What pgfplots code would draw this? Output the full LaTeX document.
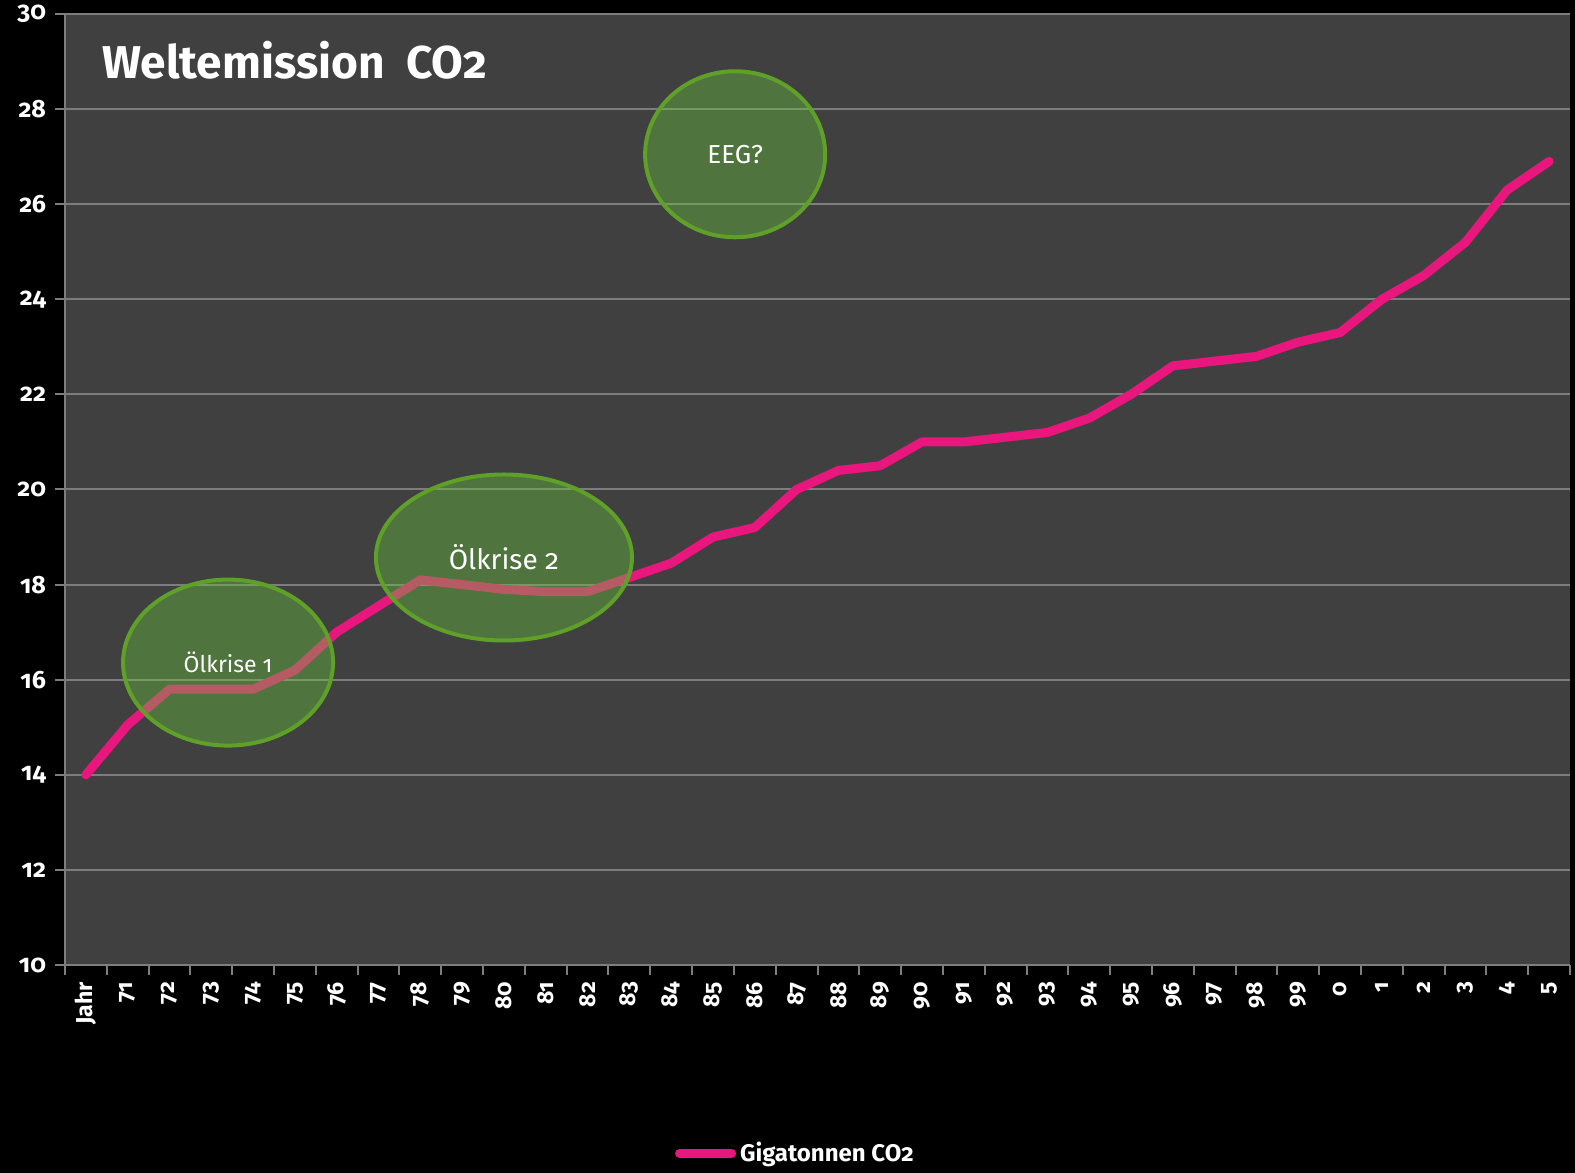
\documentclass[border=0pt]{standalone}
\usepackage{fontspec}
\setmainfont{Fira Sans}[Numbers=OldStyle]
\usepackage{pgfplots}
\pgfplotsset{compat=1.18}
\definecolor{plotbg}{RGB}{64,64,64}
\definecolor{gridc}{RGB}{125,125,125}
\definecolor{pinkline}{RGB}{233,22,125}
\definecolor{ellfill}{RGB}{105,195,60}
\definecolor{elldraw}{RGB}{95,160,40}
\begin{document}
\begin{tikzpicture}
\path[use as bounding box, fill=black] (0,0) rectangle (787.5pt,586.5pt);
\begin{axis}[
  at={(32.5pt,104pt)}, anchor=south west,
  scale only axis, width=752.5pt, height=475.5pt,
  xmin=-0.5, xmax=35.5, ymin=10, ymax=30,
  axis background/.style={fill=plotbg},
  axis x line*=bottom, axis y line*=left,
  axis line style={gridc, line width=1pt, -},
  ytick={10,12,...,30},
  xtick={0,...,35},
  xticklabels={Jahr,71,72,73,74,75,76,77,78,79,80,81,82,83,84,85,86,87,88,89,90,91,92,93,94,95,96,97,98,99,0,1,2,3,4,5},
  minor xtick={-0.5,0.5,...,35.5},
  major x tick style={draw=none},
  minor x tick style={gridc, line width=1pt},
  y tick style={gridc, line width=1pt},
  tick align=outside,
  major tick length=5pt, minor tick length=5pt,
  ymajorgrids, grid style={gridc, line width=1pt},
  /pgf/number format/assume math mode=true,
  yticklabel style={text=white, font=\bfseries\fontsize{12.5}{14}\selectfont, xshift=-1pt},
  xticklabel style={text=white, font=\bfseries\fontsize{11.5}{13}\selectfont, rotate=90, anchor=east, yshift=0pt},
  legend style={at={(0.486,-0.198)}, anchor=center, draw=none, fill=none, text=white,
    font=\bfseries\fontsize{12}{14}\selectfont, inner sep=0pt},
  legend image code/.code={\draw[#1, line cap=round] (0pt,0pt) -- (26pt,0pt);},
  clip=false,
]
\addplot[pinkline, line width=4.5pt, line join=round, line cap=round] coordinates {
(0,14.0) (1,15.05) (2,15.8) (3,15.8) (4,15.8) (5,16.2) (6,17.0) (7,17.55) (8,18.1) (9,18.0)
(10,17.9) (11,17.85) (12,17.85) (13,18.15) (14,18.45) (15,19.0) (16,19.2) (17,20.0) (18,20.4) (19,20.5)
(20,21.0) (21,21.0) (22,21.1) (23,21.2) (24,21.5) (25,22.0) (26,22.6) (27,22.7) (28,22.8) (29,23.1)
(30,23.3) (31,24.0) (32,24.5) (33,25.2) (34,26.3) (35,26.9)
};
\addlegendentry{Gigatonnen CO2}
\filldraw[fill=ellfill, fill opacity=0.4, draw=elldraw, line width=2pt] (axis cs:3.4,16.36) ellipse [x radius=52.5pt, y radius=41.5pt];
\filldraw[fill=ellfill, fill opacity=0.4, draw=elldraw, line width=2pt] (axis cs:10.0,18.57) ellipse [x radius=64pt, y radius=41.5pt];
\filldraw[fill=ellfill, fill opacity=0.4, draw=elldraw, line width=2pt] (axis cs:15.53,27.05) ellipse [x radius=45pt, y radius=41.5pt];
\node[text=white, font=\fontsize{11.5}{13}\selectfont] at (axis cs:3.4,16.36) {Ölkrise 1};
\node[text=white, font=\fontsize{14}{16}\selectfont] at (axis cs:10.0,18.57) {Ölkrise 2};
\node[text=white, font=\fontsize{13}{15}\selectfont] at (axis cs:15.53,27.05) {EEG?};
\node[anchor=base west, text=white, font=\bfseries\fontsize{23}{27}\selectfont, inner sep=0pt] at (rel axis cs:0.0246,0.9327) {Weltemission\ \ CO2};
\end{axis}
\end{tikzpicture}
\end{document}
